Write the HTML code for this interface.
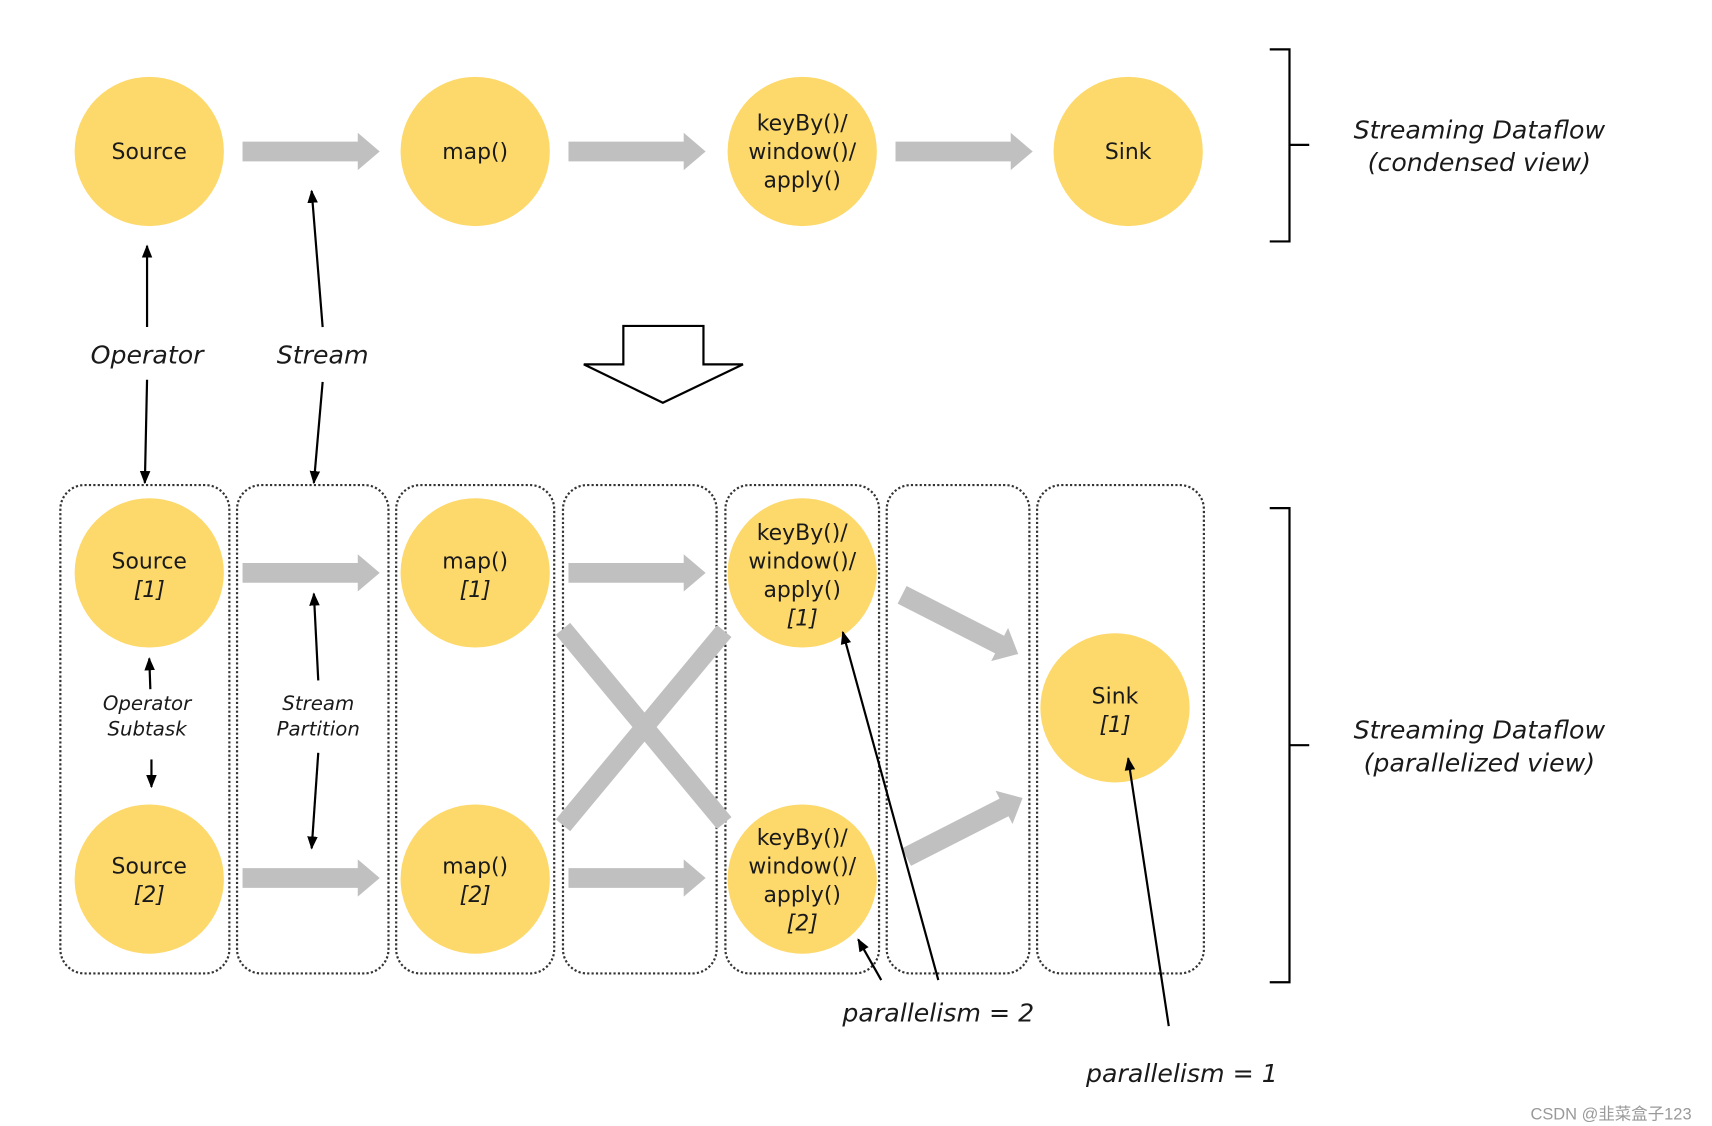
<!DOCTYPE html>
<html><head><meta charset="utf-8"><style>
html,body{margin:0;padding:0;background:#fff;}
svg{display:block;}
text{font-family:"DejaVu Sans","Liberation Sans",sans-serif;fill:#1a1a1a;}
.n{font-size:20px;text-anchor:middle;}
.i{font-style:italic;}
.lab{font-size:23px;font-style:italic;text-anchor:middle;}
.sm{font-size:18px;font-style:italic;text-anchor:middle;}
</style></head><body>
<svg width="1712" height="1126" viewBox="0 0 1560 1026" preserveAspectRatio="none" xmlns="http://www.w3.org/2000/svg">
<defs>
<marker id="ah" viewBox="0 0 10 10" refX="9" refY="5" markerWidth="6" markerHeight="6" orient="auto"><path d="M0,1 L10,5 L0,9 z" fill="#000"/></marker>
<g id="ga"><path d="M0,-9 L105,-9 L105,-17 L125,0 L105,17 L105,9 L0,9 z" fill="#c0c0c0"/></g>
</defs>
<rect width="1560" height="1026" fill="#fff"/>
<g fill="#fdd86a">
<circle cx="136" cy="138" r="68"/><circle cx="433" cy="138" r="68"/><circle cx="731" cy="138" r="68"/><circle cx="1028" cy="138" r="68"/>
</g>
<use href="#ga" x="221" y="138"/><use href="#ga" x="518" y="138"/><use href="#ga" x="816" y="138"/>
<text class="n" x="136" y="145">Source</text>
<text class="n" x="433" y="145">map()</text>
<text class="n" x="731" y="119">keyBy()/</text><text class="n" x="731" y="145">window()/</text><text class="n" x="731" y="171">apply()</text>
<text class="n" x="1028" y="145">Sink</text>
<path d="M1157,45 H1175 V220 H1157 M1175,132 H1193" fill="none" stroke="#000" stroke-width="2"/>
<text class="lab" x="1348" y="126">Streaming Dataflow</text>
<text class="lab" x="1348" y="156">(condensed view)</text>
<text class="lab" x="134" y="331">Operator</text>
<text class="lab" x="294" y="331">Stream</text>
<g stroke="#000" stroke-width="2" fill="none" marker-end="url(#ah)">
<line x1="134" y1="298" x2="134" y2="224"/>
<line x1="134" y1="346" x2="132" y2="440"/>
<line x1="294" y1="298" x2="284" y2="174"/>
<line x1="294" y1="348" x2="286" y2="440"/>
</g>
<polygon points="568,297 641,297 641,332 677,332 604,367 532,332 568,332" fill="#fff" stroke="#000" stroke-width="2"/>
<g fill="none" stroke="#333" stroke-width="2" stroke-dasharray="2,2">
<rect x="55" y="442" width="154" height="445" rx="22"/>
<rect x="216" y="442" width="138" height="445" rx="22"/>
<rect x="361" y="442" width="144" height="445" rx="22"/>
<rect x="513" y="442" width="140" height="445" rx="22"/>
<rect x="661" y="442" width="140" height="445" rx="22"/>
<rect x="808" y="442" width="130" height="445" rx="22"/>
<rect x="945" y="442" width="152" height="445" rx="22"/>
</g>
<g stroke="#c0c0c0" stroke-width="17" stroke-linecap="butt">
<line x1="513" y1="573" x2="660" y2="750"/>
<line x1="513" y1="752" x2="660" y2="575"/>
</g>
<g fill="#fdd86a">
<circle cx="136" cy="522" r="68"/><circle cx="136" cy="801" r="68"/>
<circle cx="433" cy="522" r="68"/><circle cx="433" cy="801" r="68"/>
<circle cx="731" cy="522" r="68"/><circle cx="731" cy="801" r="68"/>
<circle cx="1016" cy="645" r="68"/>
</g>
<use href="#ga" x="221" y="522"/><use href="#ga" x="221" y="800"/>
<use href="#ga" x="518" y="522"/><use href="#ga" x="518" y="800"/>
<use href="#ga" transform="translate(822,542) rotate(27) scale(0.95,1)"/>
<use href="#ga" transform="translate(826,781) rotate(-27) scale(0.95,1)"/>
<text class="n" x="136" y="518">Source</text><text class="n i" x="136" y="544">[1]</text>
<text class="n" x="136" y="796">Source</text><text class="n i" x="136" y="822">[2]</text>
<text class="n" x="433" y="518">map()</text><text class="n i" x="433" y="544">[1]</text>
<text class="n" x="433" y="796">map()</text><text class="n i" x="433" y="822">[2]</text>
<text class="n" x="731" y="492">keyBy()/</text><text class="n" x="731" y="518">window()/</text><text class="n" x="731" y="544">apply()</text><text class="n i" x="731" y="570">[1]</text>
<text class="n" x="731" y="770">keyBy()/</text><text class="n" x="731" y="796">window()/</text><text class="n" x="731" y="822">apply()</text><text class="n i" x="731" y="848">[2]</text>
<text class="n" x="1016" y="641">Sink</text><text class="n i" x="1016" y="667">[1]</text>
<text class="sm" x="134" y="647">Operator</text><text class="sm" x="134" y="670">Subtask</text>
<text class="sm" x="290" y="647">Stream</text><text class="sm" x="290" y="670">Partition</text>
<g stroke="#000" stroke-width="2" fill="none" marker-end="url(#ah)">
<line x1="137" y1="628" x2="136" y2="600"/>
<line x1="138" y1="692" x2="138" y2="717"/>
<line x1="290" y1="620" x2="286" y2="541"/>
<line x1="290" y1="686" x2="284" y2="773"/>
<line x1="855" y1="893" x2="768" y2="576"/>
<line x1="803" y1="893" x2="782" y2="856"/>
<line x1="1065" y1="935" x2="1028" y2="691"/>
</g>
<text class="lab" x="855" y="931">parallelism = 2</text>
<text class="lab" x="1077" y="986">parallelism = 1</text>
<path d="M1157,463 H1175 V895 H1157 M1175,679 H1193" fill="none" stroke="#000" stroke-width="2"/>
<text class="lab" x="1348" y="673">Streaming Dataflow</text>
<text class="lab" x="1348" y="703">(parallelized view)</text>
<text x="1468" y="1020" style="font-size:15px;fill:#999;text-anchor:middle;font-family:'Liberation Sans','Noto Sans CJK SC',sans-serif">CSDN @韭菜盒子123</text>
</svg>
</body></html>
